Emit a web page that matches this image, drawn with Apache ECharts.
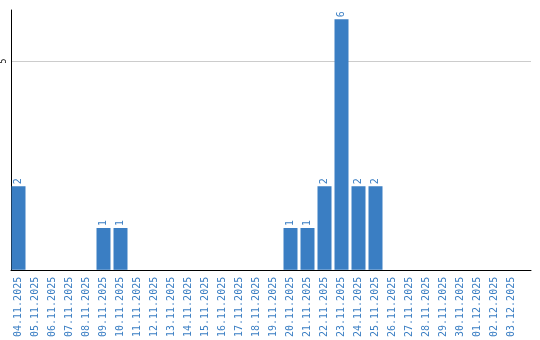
<!DOCTYPE html>
<html><head><meta charset="utf-8">
<script src="https://cdn.jsdelivr.net/npm/echarts@6/dist/echarts.min.js"></script>
<style>html,body{margin:0;padding:0;background:#fff}#c{width:540px;height:340px}</style>
</head><body><div id="c"></div>
<script>
const categories = ['04.11.2025','05.11.2025','06.11.2025','07.11.2025','08.11.2025','09.11.2025','10.11.2025','11.11.2025','12.11.2025','13.11.2025','14.11.2025','15.11.2025','16.11.2025','17.11.2025','18.11.2025','19.11.2025','20.11.2025','21.11.2025','22.11.2025','23.11.2025','24.11.2025','25.11.2025','26.11.2025','27.11.2025','28.11.2025','29.11.2025','30.11.2025','01.12.2025','02.12.2025','03.12.2025'];
const values = [2,0,0,0,0,1,1,0,0,0,0,0,0,0,0,0,1,1,2,6,2,2,0,0,0,0,0,0,0,0];
const yTicks = [5];
const blue = '#3a7ec3';
const chart = echarts.init(document.getElementById('c'), null, {renderer:'canvas'});
chart.setOption({
  animation:false,
  grid:[
    {left:10, right:9, top:10, bottom:70, containLabel:false},
    {left:10, right:20, top:10, bottom:70, containLabel:false}
  ],
  xAxis:[
    {type:'value', gridIndex:0, min:0, max:1, splitLine:{show:false},
      axisLine:{show:true, onZero:false, lineStyle:{color:'#000',width:1}}, axisTick:{show:false}, axisLabel:{show:false}},
    {type:'category', gridIndex:1, data:categories,
      axisLine:{show:false}, axisTick:{show:false},
      axisLabel:{rotate:90, interval:0, color:blue, fontFamily:'DejaVu Sans Mono', fontSize:10, margin:7}}
  ],
  yAxis:[
    {type:'value', gridIndex:0, min:0, max:6.22, interval:5,
      axisLine:{show:true, lineStyle:{color:'#000',width:1}}, axisTick:{show:false},
      splitLine:{show:true, showMaxLine:false, showMinLine:false, lineStyle:{color:'#cccccc'}},
      axisLabel:{rotate:90, color:'#000', fontFamily:'DejaVu Sans Mono', fontSize:8, margin:3,
        showMinLabel:false, showMaxLabel:false,
        formatter:v=>yTicks.includes(v)?String(v):''}},
    {type:'value', gridIndex:1, min:0, max:6.22, interval:5, show:false, splitLine:{show:false}}
  ],
  series:[{type:'bar', xAxisIndex:1, yAxisIndex:1, data:values, barWidth:14, itemStyle:{color:blue},
    label:{show:true, position:'top', rotate:90, align:'left', verticalAlign:'middle', distance:2,
      color:blue, fontFamily:'DejaVu Sans Mono', fontSize:10,
      formatter:p=>p.value>0?String(p.value):''}}]
});
</script></body></html>
